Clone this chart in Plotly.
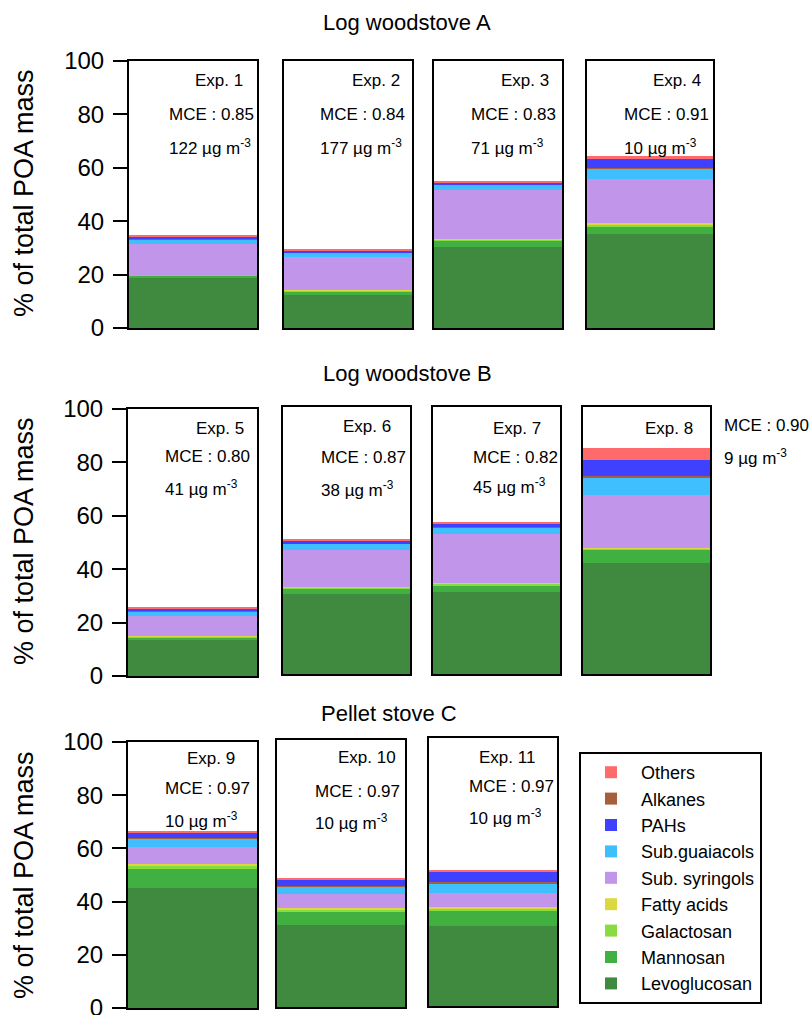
import plotly.graph_objects as go

# ---------------- data ----------------
experiments = ["Exp. 1", "Exp. 2", "Exp. 3", "Exp. 4", "Exp. 5", "Exp. 6",
               "Exp. 7", "Exp. 8", "Exp. 9", "Exp. 10", "Exp. 11"]
mce = ["0.85", "0.84", "0.83", "0.91", "0.80", "0.87", "0.82", "0.90", "0.97", "0.97", "0.97"]
conc = ["122", "177", "71", "10", "41", "38", "45", "9", "10", "10", "10"]

row_titles = ["Log woodstove A", "Log woodstove B", "Pellet stove C"]

components = ["Levoglucosan", "Mannosan", "Galactosan", "Fatty acids", "Sub. syringols",
              "Sub.guaiacols", "Alkanes", "PAHs", "Others"]

levoglucosan = [19.0, 12.3, 30.2, 35.2, 13.5, 30.0, 30.8, 41.5, 45.0, 30.8, 29.9]
mannosan     = [0.5, 1.3, 2.5, 3.0, 1.0, 2.0, 2.5, 5.2, 7.2, 5.0, 5.7]
galactosan   = [0.4, 0.4, 0.4, 0.6, 0.4, 0.3, 0.5, 0.4, 1.0, 0.7, 0.6]
fatty_acids  = [0.1, 0.1, 0.2, 0.6, 0.1, 0.1, 0.2, 0.2, 0.9, 0.6, 0.9]
syringols    = [11.6, 12.5, 18.5, 16.5, 7.5, 14.0, 18.4, 19.7, 6.3, 5.1, 5.0]
guaiacols    = [1.6, 1.5, 1.8, 3.9, 1.6, 2.3, 2.3, 6.7, 3.4, 3.1, 3.6]
alkanes      = [0.1, 0.1, 0.1, 0.2, 0.1, 0.1, 0.2, 0.5, 0.2, 0.2, 0.6]
pahs         = [0.9, 1.0, 0.9, 3.3, 1.0, 1.3, 1.3, 6.0, 2.0, 2.3, 3.8]
others       = [0.3, 0.3, 0.3, 1.2, 0.4, 0.3, 0.4, 4.6, 0.5, 0.5, 0.8]

series = [levoglucosan, mannosan, galactosan, fatty_acids, syringols,
          guaiacols, alkanes, pahs, others]

y_ticks = [0, 20, 40, 60, 80, 100]

# ---------------- styling / layout ----------------
colors = ["#408A40", "#40B040", "#8ADB3F", "#DBD840", "#C095EA",
          "#40BFFF", "#A65F3E", "#4040FF", "#FF6A6A"]
# legend order (top to bottom): Others, Alkanes, PAHs, Sub.guaiacols, ...
legend_rank = [9, 8, 7, 6, 5, 4, 2, 3, 1]

W, H = 809, 1015
FONT = "Arial, Liberation Sans, sans-serif"


def fx(px):
    return px / W


def fy(py):
    return 1 - py / H


# panel boxes in pixels: (left, right, top, bottom)
boxes = [
    (129, 257, 61, 328), (284, 412, 61, 328), (434, 562, 61, 328), (587, 713, 61, 328),
    (128, 257, 409, 676), (283, 410, 407, 674), (433, 560, 407, 674), (583, 710, 407, 674),
    (128, 257, 742, 1008), (277, 405, 740, 1007), (429, 557, 738, 1006),
]
axis_panels = [0, 4, 8]

# text positions: (exp right x, exp y, mce left x, mce y, conc y)
text_pos = [
    (245, 81, 167, 114, 147), (402, 81, 318, 114, 147), (551, 81, 469, 114, 147), (703, 81, 622, 114, 147),
    (246, 428, 163, 456, 488), (393, 427, 319, 457, 489), (543, 428, 471, 457, 486), (695, 428, 722, 425, 457),
    (237, 758, 163, 788, 820), (398, 757, 313, 791, 822), (537, 757, 467, 786, 817),
]

fig = go.Figure()

for p in range(len(experiments)):
    ax = "" if p == 0 else str(p + 1)
    for c, name in enumerate(components):
        fig.add_trace(go.Bar(
            x=[experiments[p]], y=[series[c][p]], name=name,
            marker=dict(color=colors[c], line=dict(width=0)),
            xaxis="x" + ax, yaxis="y" + ax,
            legendgroup=name, showlegend=(p == 0), legendrank=legend_rank[c],
            hoverinfo="name+y",
        ))

layout = dict(
    width=W, height=H, margin=dict(l=0, r=0, t=0, b=0, autoexpand=False),
    paper_bgcolor="white", plot_bgcolor="white",
    barmode="stack", bargap=0,
    font=dict(family=FONT, color="black"),
    showlegend=True,
    legend=dict(
        x=fx(579), y=fy(752), xanchor="left", yanchor="top",
        bordercolor="black", borderwidth=2, bgcolor="white",
        font=dict(size=18, family=FONT), traceorder="normal",
        tracegroupgap=0, itemwidth=50,
        entrywidth=172, entrywidthmode="pixels",
    ),
)

annotations = []
for p, (l, r, t, b) in enumerate(boxes):
    ax = "" if p == 0 else str(p + 1)
    xkey = "xaxis" + ax
    ykey = "yaxis" + ax
    layout[xkey] = dict(
        domain=[fx(l), fx(r)], anchor="y" + ax, range=[-0.5, 0.5],
        showline=True, mirror=True, linecolor="black", linewidth=2,
        showticklabels=False, ticks="", showgrid=False, zeroline=False,
        fixedrange=True, automargin=False,
    )
    yax = dict(
        domain=[fy(b), fy(t)], anchor="x" + ax, range=[0, 100],
        showline=True, mirror=True, linecolor="black", linewidth=2,
        showgrid=False, zeroline=False, fixedrange=True, automargin=False,
    )
    if p in axis_panels:
        yax.update(tickvals=y_ticks, ticks="outside", ticklen=14, tickwidth=2,
                   tickcolor="black", tickfont=dict(size=24, family=FONT),
                   ticklabelstandoff=4, ticklabeloverflow="allow")
    else:
        yax.update(showticklabels=False, ticks="")
    layout[ykey] = yax

    ex, ey, mx, my, cy = text_pos[p]
    annotations.append(dict(
        x=fx(ex), y=fy(ey), xref="paper", yref="paper", text=experiments[p],
        showarrow=False, xanchor="right", yanchor="middle", font=dict(size=17)))
    annotations.append(dict(
        x=fx(mx), y=fy(my), xref="paper", yref="paper", text="MCE : " + mce[p],
        showarrow=False, xanchor="left", yanchor="middle", font=dict(size=17)))
    annotations.append(dict(
        x=fx(mx), y=fy(cy), xref="paper", yref="paper",
        text=conc[p] + " µg m<sup>-3</sup>",
        showarrow=False, xanchor="left", yanchor="middle", font=dict(size=17)))

# row titles
title_pos = [(407, 23), (407, 373), (389, 713)]
for (tx, ty), txt in zip(title_pos, row_titles):
    annotations.append(dict(
        x=fx(tx), y=fy(ty), xref="paper", yref="paper", text=txt, showarrow=False,
        xanchor="center", yanchor="middle", font=dict(size=22)))

# y-axis titles
for ty in [193, 541, 875]:
    annotations.append(dict(
        x=fx(24), y=fy(ty), xref="paper", yref="paper", text="% of total POA mass",
        showarrow=False, textangle=-90, xanchor="center", yanchor="middle",
        font=dict(size=27)))

layout["annotations"] = annotations
fig.update_layout(**layout)

fig.write_html(
    "out.html",
    config={"displayModeBar": False},
    post_script="document.body.style.margin='0';document.body.style.overflow='hidden';",
)
